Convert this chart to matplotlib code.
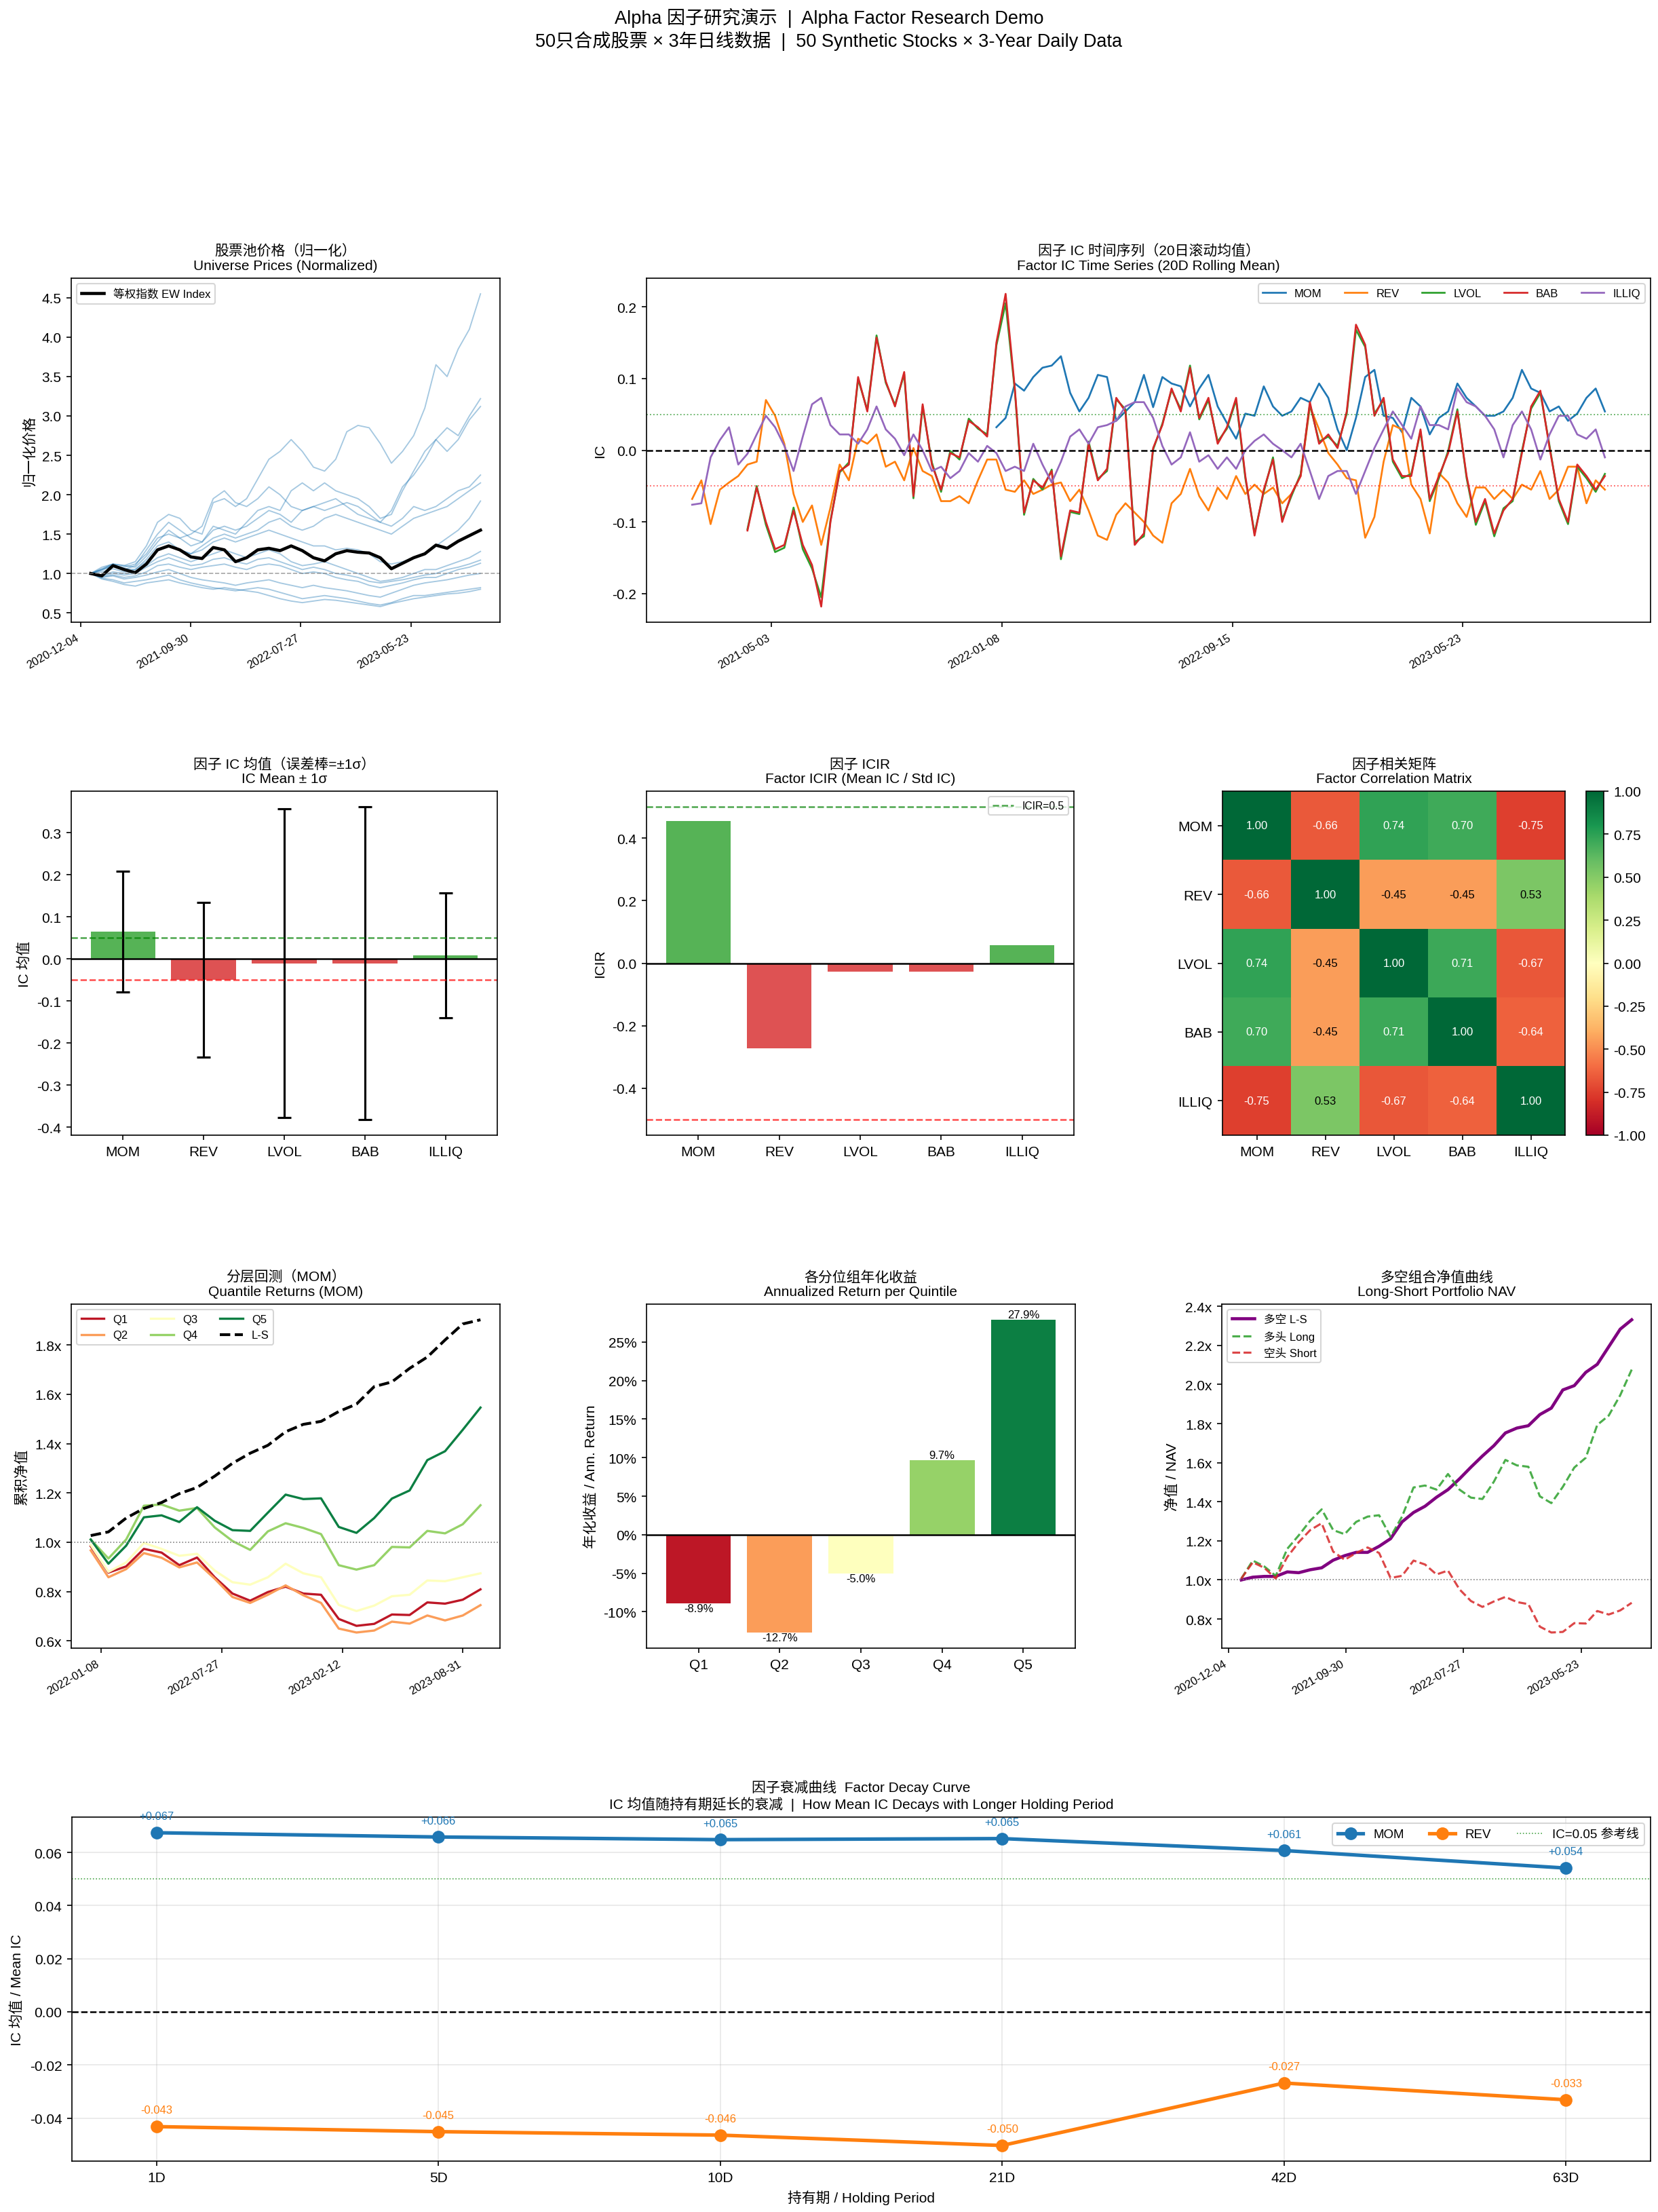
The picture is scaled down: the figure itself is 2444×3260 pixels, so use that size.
import numpy as np
import pandas as pd
import matplotlib
matplotlib.use("Agg")
import matplotlib.pyplot as plt
import matplotlib.dates as mdates
from matplotlib.ticker import FuncFormatter

plt.rcParams['font.family'] = ['Liberation Sans', 'Noto Sans CJK SC', 'DejaVu Sans']
plt.rcParams['axes.unicode_minus'] = False

# ---------------- DATA ----------------
factors = ['MOM', 'REV', 'LVOL', 'BAB', 'ILLIQ']

# Panel 1: normalized prices (monthly samples)
price_dates = pd.date_range('2021-01-01', '2023-11-28', periods=36)
price_s1 = [1.00, 1.05, 1.12, 1.10, 1.15, 1.35, 1.65, 1.75, 1.70, 1.55, 1.50, 1.90, 1.95, 1.85, 1.95, 2.20, 2.45, 2.55,
            2.70, 2.55, 2.35, 2.30, 2.45, 2.80, 2.88, 2.85, 2.65, 2.40, 2.55, 2.75, 3.10, 3.65, 3.50, 3.85, 4.10, 4.55]
price_s2 = [1.00, 1.08, 1.12, 1.05, 1.10, 1.30, 1.50, 1.65, 1.55, 1.45, 1.40, 1.60, 1.55, 1.50, 1.65, 1.80, 1.85, 1.80,
            2.05, 2.15, 2.05, 2.15, 2.05, 2.00, 1.95, 1.85, 1.70, 1.75, 2.05, 2.30, 2.55, 2.70, 2.85, 2.75, 3.00, 3.22]
price_s3 = [1.00, 1.05, 1.10, 1.08, 1.12, 1.25, 1.45, 1.50, 1.45, 1.50, 1.60, 1.95, 2.05, 1.90, 1.85, 1.95, 2.10, 2.00,
            1.85, 1.80, 1.85, 1.90, 1.95, 1.85, 1.75, 1.70, 1.65, 1.80, 2.10, 2.25, 2.45, 2.70, 2.55, 2.70, 2.95, 3.12]
price_s4 = [1.00, 1.06, 1.12, 1.10, 1.08, 1.22, 1.40, 1.55, 1.45, 1.35, 1.40, 1.55, 1.60, 1.55, 1.60, 1.70, 1.80, 1.75,
            1.65, 1.80, 1.85, 1.80, 1.85, 1.90, 1.85, 1.75, 1.65, 1.60, 1.70, 1.85, 1.80, 1.85, 1.95, 2.05, 2.10, 2.25]
price_s5 = [1.00, 1.04, 1.10, 1.06, 1.05, 1.18, 1.35, 1.40, 1.30, 1.25, 1.35, 1.45, 1.50, 1.45, 1.50, 1.55, 1.65, 1.70,
            1.60, 1.55, 1.60, 1.70, 1.75, 1.70, 1.65, 1.60, 1.55, 1.50, 1.60, 1.70, 1.75, 1.80, 1.85, 1.95, 2.05, 2.15]
price_s6 = [1.00, 1.02, 1.06, 1.02, 1.05, 1.15, 1.30, 1.35, 1.30, 1.25, 1.30, 1.40, 1.45, 1.40, 1.45, 1.50, 1.55, 1.50,
            1.45, 1.40, 1.35, 1.35, 1.30, 1.32, 1.30, 1.25, 1.15, 1.12, 1.15, 1.20, 1.25, 1.35, 1.45, 1.55, 1.70, 1.92]
price_s7 = [1.00, 0.98, 1.02, 1.00, 1.02, 1.10, 1.20, 1.25, 1.20, 1.15, 1.20, 1.25, 1.30, 1.25, 1.20, 1.25, 1.30, 1.25,
            1.15, 1.10, 1.12, 1.15, 1.10, 1.05, 1.00, 0.95, 0.90, 0.92, 0.95, 1.00, 1.05, 1.05, 1.10, 1.15, 1.20, 1.28]
price_s8 = [1.00, 0.97, 1.00, 0.98, 1.00, 1.08, 1.15, 1.20, 1.15, 1.10, 1.12, 1.18, 1.20, 1.15, 1.12, 1.18, 1.20, 1.15,
            1.10, 1.05, 1.08, 1.05, 1.00, 0.98, 0.95, 0.90, 0.88, 0.90, 0.92, 0.95, 0.98, 1.00, 1.05, 1.08, 1.12, 1.17]
price_s9 = [1.00, 0.96, 0.98, 0.95, 0.97, 1.02, 1.10, 1.12, 1.08, 1.05, 1.08, 1.10, 1.12, 1.08, 1.05, 1.10, 1.12, 1.10,
            1.05, 1.00, 1.02, 1.00, 0.95, 0.92, 0.90, 0.85, 0.82, 0.85, 0.88, 0.92, 0.95, 0.95, 1.00, 1.05, 1.08, 1.13]
price_s10 = [1.00, 0.95, 0.97, 0.93, 0.95, 0.98, 1.02, 1.05, 1.00, 0.95, 0.92, 0.90, 0.88, 0.85, 0.88, 0.90, 0.92, 0.88,
             0.85, 0.82, 0.85, 0.82, 0.80, 0.78, 0.75, 0.72, 0.70, 0.75, 0.80, 0.85, 0.88, 0.90, 0.92, 0.95, 0.98, 1.00]
price_s11 = [1.00, 0.94, 0.92, 0.88, 0.90, 0.92, 0.95, 0.98, 0.92, 0.88, 0.85, 0.82, 0.80, 0.78, 0.80, 0.82, 0.80, 0.76,
             0.72, 0.68, 0.70, 0.72, 0.70, 0.68, 0.65, 0.62, 0.60, 0.63, 0.68, 0.72, 0.72, 0.74, 0.76, 0.78, 0.80, 0.82]
price_s12 = [1.00, 0.93, 0.90, 0.86, 0.84, 0.88, 0.90, 0.92, 0.88, 0.85, 0.82, 0.80, 0.82, 0.80, 0.78, 0.76, 0.72, 0.68,
             0.65, 0.63, 0.65, 0.67, 0.66, 0.64, 0.62, 0.60, 0.58, 0.62, 0.65, 0.68, 0.70, 0.72, 0.74, 0.75, 0.77, 0.80]
ew_index = [1.00, 0.97, 1.10, 1.05, 1.01, 1.12, 1.30, 1.35, 1.30, 1.21, 1.19, 1.33, 1.30, 1.15, 1.20, 1.30, 1.32, 1.29,
            1.35, 1.29, 1.20, 1.16, 1.25, 1.29, 1.27, 1.26, 1.20, 1.06, 1.13, 1.20, 1.25, 1.36, 1.32, 1.41, 1.48, 1.55]

# Panel 2: rolling IC (10-day samples)
ic_dates = pd.date_range('2021-02-06', periods=100, freq='10D')
nan = np.nan
ic_mom = [nan] * 33 + [
    0.032, 0.045, 0.093, 0.083, 0.102, 0.115, 0.118, 0.131, 0.080, 0.054, 0.073, 0.105, 0.102, 0.041, 0.054, 0.067,
    0.105, 0.060,
    0.102, 0.093, 0.089, 0.061, 0.086, 0.105, 0.061, 0.038, 0.016, 0.051, 0.048, 0.089, 0.061, 0.048, 0.054, 0.073,
    0.067, 0.093, 0.073, 0.029, 0.000, 0.045, 0.102, 0.112, 0.048, 0.045, 0.025, 0.073, 0.061, 0.022, 0.045, 0.054,
    0.093, 0.073, 0.061, 0.048, 0.048, 0.054, 0.073, 0.112, 0.086, 0.080, 0.054, 0.061, 0.041, 0.051, 0.073, 0.086,
    0.054]
ic_rev = [
    -0.068, -0.042, -0.103, -0.055, -0.045, -0.036, -0.020, -0.016, 0.070, 0.048, 0.009, -0.061, -0.100, -0.077,
    -0.132, -0.080, -0.020, -0.042, 0.016, 0.009, 0.022, -0.023, -0.016, -0.042, 0.003, -0.029, -0.036, -0.071,
    -0.071, -0.064, -0.074, -0.042, -0.013, -0.013, -0.055, -0.058, -0.042, -0.061, -0.055, -0.048, -0.045, -0.071,
    -0.055, -0.084, -0.119, -0.125, -0.090, -0.074, -0.087, -0.100, -0.119,
    -0.129, -0.074, -0.061, -0.026, -0.064, -0.084, -0.052, -0.068, -0.036, -0.061, -0.048, -0.061, -0.052, -0.074,
    -0.061, -0.036, 0.061, 0.029, -0.004, -0.020, -0.039, -0.042, -0.122, -0.093, -0.016, 0.035, 0.029, -0.048,
    -0.068, -0.116, -0.032, -0.045, -0.074, -0.093, -0.052, -0.052, -0.068, -0.055, -0.068, -0.048, -0.055, -0.029,
    -0.068, -0.055, -0.023, -0.023, -0.074, -0.042, -0.055]
ic_lvol = [nan] * 6 + [
    -0.110, -0.050, -0.104, -0.142, -0.136, -0.080, -0.138, -0.165, -0.205, -0.098, -0.031, -0.017, 0.099, 0.056,
    0.160, 0.094, 0.063, 0.106, -0.067, 0.061, -0.017, -0.058, -0.001, -0.013, 0.044, 0.030, 0.022, 0.146, 0.205,
    0.083, -0.090, -0.040, -0.055, -0.027, -0.152, -0.086, -0.089, 0.012, -0.040, -0.029, 0.071, 0.057, -0.128,
    -0.120, 0.001,
    0.037, 0.084, 0.057, 0.118, 0.043, 0.070, 0.012, 0.030, 0.070, -0.039, -0.116, -0.058, -0.010, -0.097, -0.064,
    -0.033, 0.064, 0.012, 0.019, 0.006, 0.051, 0.168, 0.144, 0.051, 0.070, -0.016, -0.039, -0.033, 0.026, -0.071,
    -0.039, -0.001, 0.057, -0.039, -0.104, -0.071, -0.120, -0.081, -0.071, -0.001, 0.058, 0.080, 0.006, -0.071,
    -0.103, -0.023, -0.039, -0.058, -0.033]
ic_bab = [nan] * 6 + [
    -0.112, -0.052, -0.100, -0.138, -0.132, -0.084, -0.132, -0.160, -0.218, -0.100, -0.029, -0.020, 0.102, 0.054,
    0.157, 0.096, 0.061, 0.109, -0.064, 0.064, -0.020, -0.055, -0.004, -0.010, 0.041, 0.032, 0.019, 0.150, 0.218,
    0.086, -0.087, -0.042, -0.052, -0.029, -0.148, -0.084, -0.087, 0.009, -0.042, -0.026, 0.073, 0.054, -0.132,
    -0.116, 0.003,
    0.035, 0.086, 0.054, 0.115, 0.045, 0.073, 0.009, 0.032, 0.073, -0.036, -0.119, -0.055, -0.013, -0.100, -0.061,
    -0.036, 0.067, 0.009, 0.022, 0.003, 0.054, 0.175, 0.147, 0.048, 0.073, -0.013, -0.036, -0.036, 0.029, -0.068,
    -0.036, -0.004, 0.054, -0.036, -0.100, -0.068, -0.116, -0.084, -0.068, -0.004, 0.061, 0.083, 0.003, -0.068,
    -0.100, -0.020, -0.036, -0.055, -0.036]
ic_illiq = [
    -0.076, -0.074, -0.010, 0.014, 0.032, -0.020, -0.005, 0.022, 0.048, 0.032, 0.006, -0.029, 0.019, 0.064, 0.073,
    0.035, 0.022, 0.022, 0.009, 0.029, 0.061, 0.029, 0.016, -0.007, 0.022, 0.000, -0.029, -0.023, -0.039, -0.029,
    -0.004, -0.016, 0.006, -0.004, -0.029, -0.023, -0.029, 0.009, -0.020, -0.045, -0.016, 0.019, 0.029, 0.009,
    0.032, 0.035, 0.041, 0.061, 0.067, 0.067, 0.045,
    0.006, -0.020, -0.010, 0.025, -0.016, -0.007, -0.026, -0.010, -0.026, 0.000, 0.013, 0.022, 0.009, 0.000,
    -0.010, 0.009, -0.029, -0.068, -0.036, -0.029, -0.029, -0.061, -0.029, 0.003, 0.029, 0.054, 0.035, 0.016,
    0.061, 0.035, 0.035, 0.029, 0.086, 0.067, 0.061, 0.048, 0.029, -0.010, 0.035, 0.054, 0.029, -0.013, 0.022,
    0.048, 0.048, 0.022, 0.016, 0.029, -0.010]

# Panel 3/4: IC statistics
ic_mean = [0.0650, -0.0500, -0.0100, -0.0100, 0.0085]
ic_std = [0.1432, 0.1840, 0.3680, 0.3720, 0.1485]

# Panel 5: correlation matrix
corr = [[1.00, -0.66, 0.74, 0.70, -0.75],
        [-0.66, 1.00, -0.45, -0.45, 0.53],
        [0.74, -0.45, 1.00, 0.71, -0.67],
        [0.70, -0.45, 0.71, 1.00, -0.64],
        [-0.75, 0.53, -0.67, -0.64, 1.00]]

# Panel 6: quantile cumulative NAV (monthly)
q_dates = pd.date_range('2021-12-22', '2023-09-29', periods=23)
q1 = [0.984, 0.877, 0.902, 0.973, 0.958, 0.907, 0.938, 0.858, 0.792, 0.763, 0.798, 0.820, 0.792, 0.787, 0.689,
      0.661, 0.669, 0.707, 0.705, 0.756, 0.751, 0.767, 0.809]
q2 = [0.967, 0.858, 0.891, 0.956, 0.937, 0.898, 0.918, 0.852, 0.778, 0.754, 0.787, 0.825, 0.785, 0.754, 0.650,
      0.634, 0.642, 0.678, 0.670, 0.703, 0.683, 0.703, 0.745]
q3 = [0.989, 0.880, 0.918, 0.997, 0.973, 0.945, 0.953, 0.885, 0.838, 0.828, 0.858, 0.913, 0.874, 0.858, 0.746,
      0.721, 0.743, 0.781, 0.787, 0.845, 0.842, 0.858, 0.874]
q4 = [1.011, 0.934, 1.011, 1.148, 1.153, 1.128, 1.139, 1.060, 1.005, 0.969, 1.044, 1.077, 1.058, 1.033, 0.907,
      0.889, 0.907, 0.981, 0.979, 1.046, 1.036, 1.073, 1.150]
q5 = [1.011, 0.913, 0.986, 1.101, 1.109, 1.082, 1.142, 1.087, 1.049, 1.046, 1.120, 1.193, 1.175, 1.178, 1.062,
      1.038, 1.098, 1.177, 1.210, 1.333, 1.369, 1.456, 1.546]
q_ls = [1.027, 1.042, 1.098, 1.137, 1.161, 1.197, 1.222, 1.268, 1.320, 1.361, 1.393, 1.448, 1.478, 1.490, 1.530,
        1.560, 1.631, 1.650, 1.705, 1.751, 1.820, 1.885, 1.902]

# Panel 7: annualized return per quintile (%)
quintiles = ['Q1', 'Q2', 'Q3', 'Q4', 'Q5']
ann_ret = [-8.9, -12.7, -5.0, 9.7, 27.9]

# Panel 8: long-short NAV (monthly)
nav_dates = pd.date_range('2021-01-06', '2023-09-29', periods=35)
nav_ls = [1.000, 1.014, 1.018, 1.018, 1.041, 1.037, 1.052, 1.062, 1.101, 1.124, 1.141, 1.141, 1.172, 1.211, 1.297,
          1.345, 1.377, 1.423, 1.462, 1.517, 1.577, 1.634, 1.687, 1.752, 1.777, 1.789, 1.846, 1.879, 1.972, 1.994,
          2.062, 2.103, 2.193, 2.283, 2.331]
nav_long = [1.007, 1.099, 1.069, 1.021, 1.159, 1.228, 1.303, 1.361, 1.255, 1.234, 1.297, 1.324, 1.331, 1.221, 1.324,
            1.473, 1.483, 1.462, 1.542, 1.462, 1.421, 1.414, 1.503, 1.614, 1.586, 1.579, 1.428, 1.393, 1.476, 1.575,
            1.625, 1.793, 1.841, 1.945, 2.076]
nav_short = [1.007, 1.090, 1.062, 1.007, 1.117, 1.193, 1.255, 1.290, 1.145, 1.103, 1.138, 1.166, 1.138, 1.010, 1.021,
             1.099, 1.079, 1.028, 1.048, 0.952, 0.892, 0.862, 0.890, 0.913, 0.887, 0.876, 0.761, 0.731, 0.734, 0.779,
             0.777, 0.841, 0.823, 0.844, 0.883]

# Panel 9: decay
horizons = ['1D', '5D', '10D', '21D', '42D', '63D']
decay_mom = [0.0674, 0.0658, 0.0648, 0.0652, 0.0607, 0.0541]
decay_rev = [-0.0432, -0.0451, -0.0464, -0.0503, -0.0268, -0.0331]

# ---------------- FIGURE ----------------
W, H = 2444, 3261
fig = plt.figure(figsize=(W / 150, H / 150), dpi=150)


def box(l, t, r, b):
    return fig.add_axes([l / W, 1 - b / H, (r - l) / W, (b - t) / H])


def date_ticks(ax, ticks):
    ax.set_xticks(mdates.date2num(pd.to_datetime(ticks)))
    ax.xaxis.set_major_formatter(mdates.DateFormatter('%Y-%m-%d'))
    plt.setp(ax.get_xticklabels(), rotation=30, ha='right', fontsize=8)


fig.suptitle('Alpha 因子研究演示  |  Alpha Factor Research Demo\n'
             '50只合成股票 × 3年日线数据  |  50 Synthetic Stocks × 3-Year Daily Data',
             y=1 - 12 / H, va='top', fontsize=13)

# Panel 1
ax1 = box(105, 411, 737, 918)
for s in [price_s1, price_s2, price_s3, price_s4, price_s5, price_s6, price_s7, price_s8, price_s9, price_s10,
          price_s11, price_s12]:
    ax1.plot(price_dates, s, color='tab:blue', lw=0.9, alpha=0.4)
ax1.plot(price_dates, ew_index, color='black', lw=2.2, label='等权指数 EW Index')
ax1.axhline(1.0, color='gray', ls='--', lw=0.8, alpha=0.7)
ax1.set_title('股票池价格（归一化）\nUniverse Prices (Normalized)', fontsize=10)
ax1.set_ylabel('归一化价格', fontsize=10)
ax1.legend(loc='upper left', fontsize=8)
date_ticks(ax1, ['2020-12-04', '2021-09-30', '2022-07-27', '2023-05-23'])

# Panel 2
ax2 = box(953, 411, 2433, 918)
ic_series = [ic_mom, ic_rev, ic_lvol, ic_bab, ic_illiq]
ic_colors = ['tab:blue', 'tab:orange', 'tab:green', 'tab:red', 'tab:purple']
for name, s, c in zip(factors, ic_series, ic_colors):
    ax2.plot(ic_dates, np.array(s, dtype=float), color=c, lw=1.3, label=name)
ax2.axhline(0, color='black', ls='--', lw=1.2)
ax2.axhline(0.05, color='green', ls=':', lw=0.9, alpha=0.6)
ax2.axhline(-0.05, color='red', ls=':', lw=0.9, alpha=0.6)
ax2.set_title('因子 IC 时间序列（20日滚动均值）\nFactor IC Time Series (20D Rolling Mean)', fontsize=10)
ax2.set_ylabel('IC', fontsize=10)
ax2.legend(loc='upper right', ncol=5, fontsize=8)
date_ticks(ax2, ['2021-05-03', '2022-01-08', '2022-09-15', '2023-05-23'])

# Panel 3
ax3 = box(105, 1167, 733, 1674)
bar_cols = ['tab:green' if v > 0 else 'tab:red' for v in ic_mean]
ax3.bar(factors, ic_mean, color=bar_cols, alpha=0.8, yerr=ic_std, capsize=5,
        error_kw=dict(ecolor='black', elinewidth=1.5, capthick=1.5))
ax3.axhline(0, color='black', lw=1.2)
ax3.axhline(0.05, color='green', ls='--', lw=1.2, alpha=0.7)
ax3.axhline(-0.05, color='red', ls='--', lw=1.2, alpha=0.7)
ax3.set_title('因子 IC 均值（误差棒=±1σ）\nIC Mean ± 1σ', fontsize=10)
ax3.set_ylabel('IC 均值', fontsize=10)

# Panel 4
ax4 = box(953, 1167, 1583, 1674)
icir = [m / s for m, s in zip(ic_mean, ic_std)]
ax4.bar(factors, icir, color=['tab:green' if v > 0 else 'tab:red' for v in icir], alpha=0.8)
ax4.axhline(0, color='black', lw=1.2)
ax4.axhline(0.5, color='green', ls='--', lw=1.2, alpha=0.7, label='ICIR=0.5')
ax4.axhline(-0.5, color='red', ls='--', lw=1.2, alpha=0.7)
ax4.set_title('因子 ICIR\nFactor ICIR (Mean IC / Std IC)', fontsize=10)
ax4.set_ylabel('ICIR', fontsize=10)
ax4.legend(loc='upper right', fontsize=7.5)

# Panel 5
ax5 = box(1802, 1167, 2307, 1674)
cm = np.array(corr)
im = ax5.imshow(cm, cmap='RdYlGn', vmin=-1, vmax=1, aspect='auto')
ax5.set_xticks(range(5), factors)
ax5.set_yticks(range(5), factors)
for i in range(5):
    for j in range(5):
        v = cm[i, j]
        ax5.text(j, i, f'{v:.2f}', ha='center', va='center', fontsize=8,
                 color='white' if abs(v) > 0.6 else 'black')
ax5.set_title('因子相关矩阵\nFactor Correlation Matrix', fontsize=10)
cax = box(2338, 1167, 2364, 1674)
cb = fig.colorbar(im, cax=cax)
cb.set_ticks(np.arange(-1, 1.01, 0.25))

# Panel 6
ax6 = box(105, 1923, 737, 2430)
qcols = [plt.cm.RdYlGn(v) for v in [0.05, 0.275, 0.5, 0.725, 0.95]]
for name, s, c in zip(quintiles, [q1, q2, q3, q4, q5], qcols):
    ax6.plot(q_dates, s, color=c, lw=1.6, label=name)
ax6.plot(q_dates, q_ls, color='black', ls='--', lw=2, label='L-S')
ax6.axhline(1.0, color='gray', ls=':', lw=0.8)
ax6.yaxis.set_major_formatter(FuncFormatter(lambda v, p: f'{v:.1f}x'))
ax6.set_title('分层回测（MOM）\nQuantile Returns (MOM)', fontsize=10)
ax6.set_ylabel('累积净值', fontsize=10)
ax6.legend(loc='upper left', ncol=3, fontsize=8)
date_ticks(ax6, ['2022-01-08', '2022-07-27', '2023-02-12', '2023-08-31'])

# Panel 7
ax7 = box(953, 1923, 1585, 2430)
bars = ax7.bar(quintiles, ann_ret, color=qcols)
for b, v in zip(bars, ann_ret):
    ax7.text(b.get_x() + b.get_width() / 2, v, f'{v:.1f}%', ha='center',
             va='bottom' if v > 0 else 'top', fontsize=8)
ax7.axhline(0, color='black', lw=1.2)
ax7.yaxis.set_major_formatter(FuncFormatter(lambda v, p: f'{v:.0f}%'))
ax7.set_title('各分位组年化收益\nAnnualized Return per Quintile', fontsize=10)
ax7.set_ylabel('年化收益 / Ann. Return', fontsize=10)

# Panel 8
ax8 = box(1801, 1923, 2434, 2430)
ax8.plot(nav_dates, nav_ls, color='purple', lw=2.2, label='多空 L-S')
ax8.plot(nav_dates, nav_long, color='tab:green', ls='--', lw=1.5, alpha=0.85, label='多头 Long')
ax8.plot(nav_dates, nav_short, color='tab:red', ls='--', lw=1.5, alpha=0.85, label='空头 Short')
ax8.axhline(1.0, color='gray', ls=':', lw=0.8)
ax8.yaxis.set_major_formatter(FuncFormatter(lambda v, p: f'{v:.1f}x'))
ax8.set_title('多空组合净值曲线\nLong-Short Portfolio NAV', fontsize=10)
ax8.set_ylabel('净值 / NAV', fontsize=10)
ax8.legend(loc='upper left', fontsize=8)
date_ticks(ax8, ['2020-12-04', '2021-09-30', '2022-07-27', '2023-05-23'])

# Panel 9
ax9 = box(106, 2679, 2433, 3186)
xs = np.arange(len(horizons))
ax9.plot(xs, decay_mom, color='tab:blue', lw=2.5, marker='o', ms=8, label='MOM')
ax9.plot(xs, decay_rev, color='tab:orange', lw=2.5, marker='o', ms=8, label='REV')
for x, v in zip(xs, decay_mom):
    ax9.annotate(f'{v:+.3f}', (x, v), textcoords='offset points', xytext=(0, 8), ha='center', va='bottom',
                 fontsize=8, color='tab:blue')
for x, v in zip(xs, decay_rev):
    ax9.annotate(f'{v:+.3f}', (x, v), textcoords='offset points', xytext=(0, 8), ha='center', va='bottom',
                 fontsize=8, color='tab:orange')
ax9.axhline(0, color='black', ls='--', lw=1.2)
ax9.axhline(0.05, color='green', ls=':', lw=0.8, alpha=0.7, label='IC=0.05 参考线')
ax9.set_xticks(xs, horizons)
ax9.set_xlim(-0.3, 5.3)
ax9.grid(alpha=0.3)
ax9.set_title('因子衰减曲线  Factor Decay Curve\nIC 均值随持有期延长的衰减  |  How Mean IC Decays with Longer Holding Period',
              fontsize=10)
ax9.set_xlabel('持有期 / Holding Period', fontsize=10)
ax9.set_ylabel('IC 均值 / Mean IC', fontsize=10)
ax9.legend(loc='upper right', ncol=3, fontsize=9)

fig.savefig('out.png', dpi=150)
